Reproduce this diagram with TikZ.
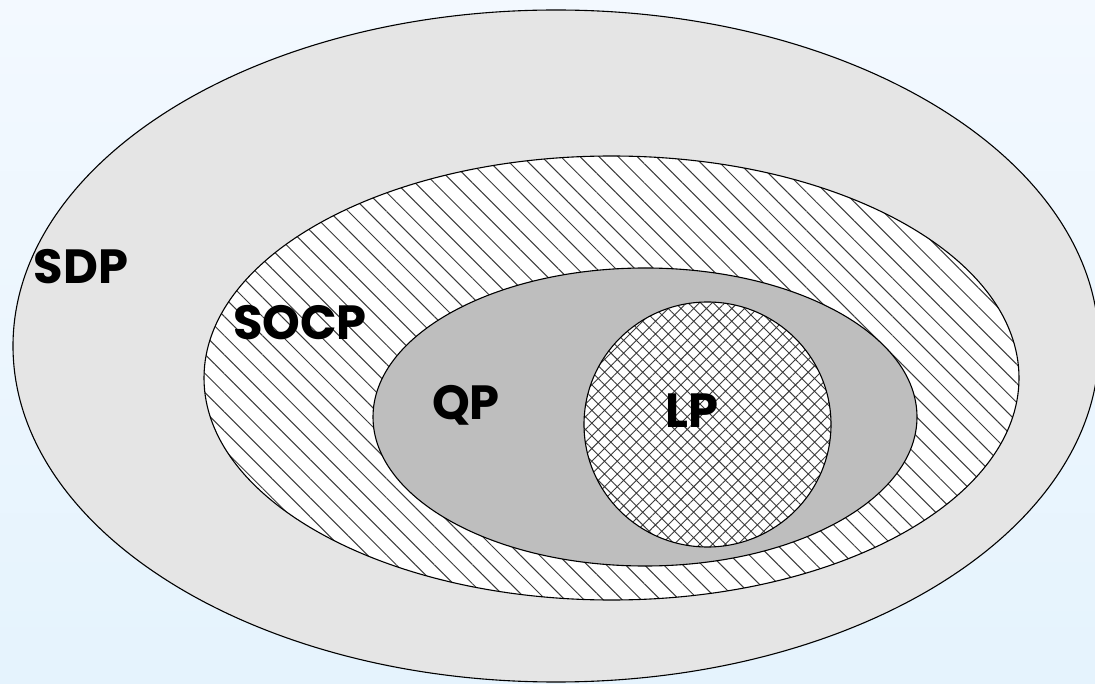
\documentclass[tikz,border=0pt]{standalone}
\usepackage{fontspec}
\newfontfamily\labfont{Poppins}
\usetikzlibrary{patterns.meta}
\definecolor{bgtop}{HTML}{F3F9FF}
\definecolor{bgbot}{HTML}{E5F3FD}
\definecolor{sdpfill}{HTML}{E5E5E5}
\definecolor{qpfill}{HTML}{BEBEBE}
\definecolor{hatchcol}{HTML}{3A3A3A}
\tikzset{
  setline/.style={draw=black, line width=1.1pt},
  lab/.style={anchor=base, inner sep=0pt, font=\labfont\bfseries\fontsize{48}{56}\selectfont, text=black},
}
\begin{document}
\begin{tikzpicture}[x=1pt, y=-1pt]
\useasboundingbox (0,0) rectangle (1095,684);
\shade[top color=bgtop, bottom color=bgbot] (0,0) rectangle (1095,684);
% SDP
\draw[setline, fill=sdpfill] (556,346) ellipse [x radius=543, y radius=336];
% SOCP
\fill[white] (611.5,378) ellipse [x radius=407.5, y radius=222];
\fill[pattern={Lines[angle=-45, distance=13.5pt, line width=1pt]}, pattern color=hatchcol] (611.5,378) ellipse [x radius=407.5, y radius=222];
\draw[setline] (611.5,378) ellipse [x radius=407.5, y radius=222];
% QP
\draw[setline, fill=qpfill] (645,417) ellipse [x radius=272, y radius=149];
% LP
\fill[white] (707.5,424.5) ellipse [x radius=123.5, y radius=122.5];
\fill[pattern={Hatch[angle=45, distance=9pt, line width=0.9pt]}, pattern color=hatchcol] (707.5,424.5) ellipse [x radius=123.5, y radius=122.5];
\draw[setline] (707.5,424.5) ellipse [x radius=123.5, y radius=122.5];
% labels
\node[lab] (sdp) at (81,284) {SDP};
\node[lab] (socp) at (300,340) {SOCP};
\node[lab] (qp) at (466,420) {QP};
\node[lab] (lp) at (692,428) {LP};
\end{tikzpicture}
\end{document}
